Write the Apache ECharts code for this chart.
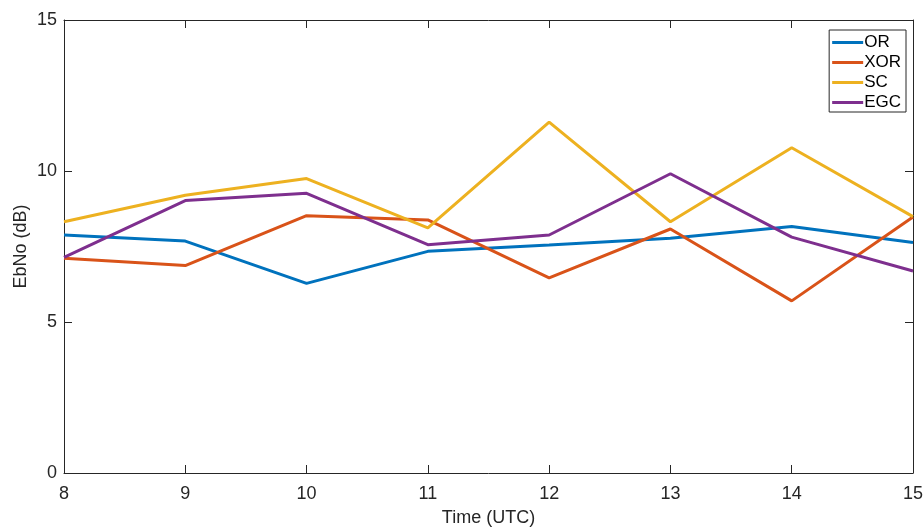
<!DOCTYPE html>
<html><head><meta charset="utf-8">
<script src="https://cdn.jsdelivr.net/npm/echarts@6/dist/echarts.min.js"></script>
<style>html,body{margin:0;padding:0;background:#fff}#c{width:924px;height:529px}</style>
</head><body><div id="c"></div>
<script>
const hours = [8, 9, 10, 11, 12, 13, 14, 15];
const OR  = [7.88, 7.68, 6.28, 7.34, 7.55, 7.77, 8.16, 7.63];
const XOR = [7.11, 6.87, 8.52, 8.38, 6.46, 8.08, 5.70, 8.48];
const SC  = [8.32, 9.20, 9.75, 8.12, 11.62, 8.32, 10.77, 8.49];
const EGC = [7.14, 9.02, 9.26, 7.56, 7.88, 9.91, 7.81, 6.69];
const seriesNames = ['OR', 'XOR', 'SC', 'EGC'];
const seriesData = [OR, XOR, SC, EGC];
const colors = ['#0072BD', '#D95319', '#EDB120', '#7E2F8E'];
const xTicks = [8, 9, 10, 11, 12, 13, 14, 15];
const yTicks = [0, 5, 10, 15];

const axisCol = '#262626';
const font = 'Liberation Sans, Arial, Helvetica, sans-serif';
const chart = echarts.init(document.getElementById('c'), null, {renderer: 'canvas'});
const baseAxis = {
  axisLine: {show: true, onZero: false, lineStyle: {color: axisCol, width: 1}},
  axisTick: {show: true, inside: true, length: 8, lineStyle: {color: axisCol}},
  splitLine: {show: false},
};
chart.setOption({
  animation: false,
  color: colors,
  grid: {left: 64, right: 11, top: 20, bottom: 56, containLabel: false, outerBoundsMode: 'none'},
  legend: {
    orient: 'vertical', right: 18, top: 30,
    data: seriesNames,
    icon: 'rect', itemWidth: 31, itemHeight: 3, itemGap: 3,
    borderColor: axisCol, borderWidth: 1, padding: [4, 5, 1, 3],
    backgroundColor: '#fff',
    textStyle: {fontFamily: font, fontSize: 17, color: '#000', padding: [0, 0, 0, -4]}
  },
  xAxis: [
    Object.assign({}, baseAxis, {
      type: 'value', min: xTicks[0], max: xTicks[xTicks.length-1], interval: 1,
      name: 'Time (UTC)', nameLocation: 'middle', nameGap: 36,
      nameTextStyle: {fontFamily: font, fontSize: 18, color: axisCol},
      axisLabel: {fontFamily: font, fontSize: 18, color: axisCol, margin: 12}
    }),
    Object.assign({}, baseAxis, {
      type: 'value', position: 'top', min: xTicks[0], max: xTicks[xTicks.length-1], interval: 1,
      axisLabel: {show: false}
    })
  ],
  yAxis: [
    Object.assign({}, baseAxis, {
      type: 'value', min: yTicks[0], max: yTicks[yTicks.length-1], interval: 5,
      name: 'EbNo (dB)', nameLocation: 'middle', nameGap: 34, nameMoveOverlap: false,
      nameTextStyle: {fontFamily: font, fontSize: 18, color: axisCol},
      axisLabel: {fontFamily: font, fontSize: 18, color: axisCol, margin: 7}
    }),
    Object.assign({}, baseAxis, {
      type: 'value', position: 'right', min: yTicks[0], max: yTicks[yTicks.length-1], interval: 5,
      axisLabel: {show: false}
    })
  ],
  series: seriesNames.map((n, i) => ({
    name: n, type: 'line', xAxisIndex: 0, yAxisIndex: 0,
    data: hours.map((h, j) => [h, seriesData[i][j]]),
    showSymbol: false, symbol: 'none',
    lineStyle: {width: 3, color: colors[i]}
  }))
});
</script></body></html>
